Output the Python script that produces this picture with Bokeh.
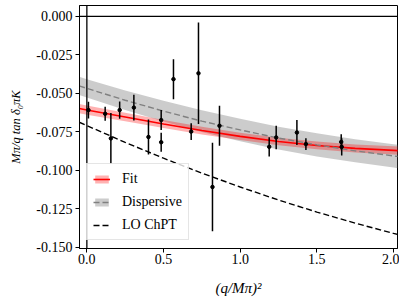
import math
from bokeh.plotting import figure
from bokeh.models import (Span, Legend, LegendItem, FixedTicker,
                          NumeralTickFormatter, Range1d)
from bokeh.embed import file_html
from bokeh.resources import INLINE

# ---------------- data ----------------
pt_x = [0.0104, 0.1194, 0.1566, 0.2140, 0.3066, 0.4018, 0.4847, 0.4847,
        0.5649, 0.6804, 0.7280, 0.8193, 0.8650, 1.1892, 1.2348, 1.3699,
        1.4286, 1.6589, 1.6621]
pt_y = [-0.0609, -0.0633, -0.0793, -0.0609, -0.0593, -0.0784, -0.0674, -0.0818,
        -0.0408, -0.0749, -0.0370, -0.1109, -0.0711, -0.0848, -0.0787, -0.0755,
        -0.0830, -0.0816, -0.0848]
pt_err = [0.0054, 0.0045, 0.0165, 0.0056, 0.0083, 0.0113, 0.0065, 0.0062,
          0.0130, 0.0054, 0.0330, 0.0288, 0.0130, 0.0063, 0.0076, 0.0081,
          0.0038, 0.0050, 0.0056]

curve_x = [-0.05, 0.0, 0.25, 0.5, 0.75, 1.0, 1.25, 1.5, 1.75, 2.0, 2.05]
fit_y = [-0.0599, -0.0609, -0.0654, -0.0699, -0.0742, -0.0780, -0.0813,
         -0.0839, -0.0858, -0.0871, -0.0874]
fit_err = [0.0030, 0.0030, 0.0028, 0.0026, 0.0025, 0.0024, 0.0024,
           0.0025, 0.0026, 0.0027, 0.0027]
disp_y = [-0.0452, -0.0468, -0.0545, -0.0616, -0.0681, -0.0738, -0.0791,
          -0.0835, -0.0874, -0.0907, -0.0913]
disp_err = [0.0059, 0.0060, 0.0064, 0.0068, 0.0071, 0.0073, 0.0074,
            0.0075, 0.0075, 0.0076, 0.0076]
lo_y = [-0.0688, -0.0710, -0.0819, -0.0922, -0.1019, -0.1109, -0.1194,
        -0.1272, -0.1344, -0.1411, -0.1422]

x_ticks = [0.0, 0.5, 1.0, 1.5, 2.0]
y_ticks = [0.0, -0.025, -0.05, -0.075, -0.1, -0.125, -0.15]

series_labels = ["Fit", "Dispersive", "LO ChPT"]
x_title = "(q/Mπ)²"
y_title = "Mπ/q tan δ₀πK"

FONT = "Liberation Serif"

# ---------------- figure ----------------
p = figure(width=399, height=298, output_backend="svg", toolbar_location=None,
           x_range=Range1d(-0.048, 2.026), y_range=Range1d(-0.1509, 0.0071),
           min_border_left=79, min_border_right=2, min_border_top=5,
           min_border_bottom=49)
p.xgrid.visible = False
p.ygrid.visible = False
p.outline_line_color = "black"
p.outline_line_width = 1
p.background_fill_color = "white"
p.border_fill_color = "white"

for ax in (p.xaxis[0], p.yaxis[0]):
    ax.axis_line_color = "black"
    ax.major_tick_line_color = "black"
    ax.major_tick_out = 4
    ax.major_tick_in = 0
    ax.minor_tick_out = 0
    ax.minor_tick_in = 0
    ax.major_label_text_font = FONT
    ax.major_label_text_font_size = "14px"
    ax.major_label_text_color = "black"
    ax.axis_label_text_font = FONT
    ax.axis_label_text_color = "black"
    ax.axis_label_text_font_style = "italic"

p.xaxis.major_label_standoff = 1
p.yaxis.major_label_standoff = 3
p.xaxis.ticker = FixedTicker(ticks=x_ticks)
p.xaxis.formatter = NumeralTickFormatter(format="0.0")
p.yaxis.ticker = FixedTicker(ticks=y_ticks)
p.yaxis.formatter = NumeralTickFormatter(format="0.000")

p.xaxis.axis_label = x_title
p.xaxis.axis_label_text_font_size = "15px"
p.xaxis.axis_label_standoff = 13
p.yaxis.axis_label = y_title
p.yaxis.axis_label_text_font_size = "12.5px"
p.yaxis.axis_label_standoff = 10

fit_lo = [a - b for a, b in zip(fit_y, fit_err)]
fit_hi = [a + b for a, b in zip(fit_y, fit_err)]
disp_lo = [a - b for a, b in zip(disp_y, disp_err)]
disp_hi = [a + b for a, b in zip(disp_y, disp_err)]

disp_band = p.varea(x=curve_x, y1=disp_lo, y2=disp_hi, fill_color="#808080",
                    fill_alpha=0.4)
fit_band = p.varea(x=curve_x, y1=fit_lo, y2=fit_hi, fill_color="#ff0000",
                   fill_alpha=0.3)
fit_line = p.line(curve_x, fit_y, line_color="#ff0000", line_width=1.6)
disp_line = p.line(curve_x, disp_y, line_color="#808080", line_width=1.4,
                   line_dash="6 3")
lo_line = p.line(curve_x, lo_y, line_color="black", line_width=1.4,
                 line_dash="6 3")

err_lo = [a - b for a, b in zip(pt_y, pt_err)]
err_hi = [a + b for a, b in zip(pt_y, pt_err)]
p.segment(x0=pt_x, y0=err_lo, x1=pt_x, y1=err_hi, line_color="black",
          line_width=1.5)
p.scatter(pt_x, pt_y, size=3.5, color="black", marker="circle")

p.add_layout(Span(location=0, dimension="width", line_color="black", line_width=1.3))
p.add_layout(Span(location=0, dimension="height", line_color="black", line_width=1.3))

legend = Legend(items=[LegendItem(label=series_labels[0], renderers=[fit_band, fit_line]),
                       LegendItem(label=series_labels[1], renderers=[disp_band, disp_line]),
                       LegendItem(label=series_labels[2], renderers=[lo_line])],
                location=(7, 8), margin=0, padding=6, spacing=6,
                glyph_width=17, glyph_height=10, label_height=17,
                label_standoff=12, label_text_font=FONT,
                label_text_font_size="14px", label_text_color="black",
                border_line_color="#cccccc", border_line_width=1,
                background_fill_color="white", background_fill_alpha=0.8)
p.add_layout(legend)

open("out.html", "w").write(file_html(p, INLINE))
